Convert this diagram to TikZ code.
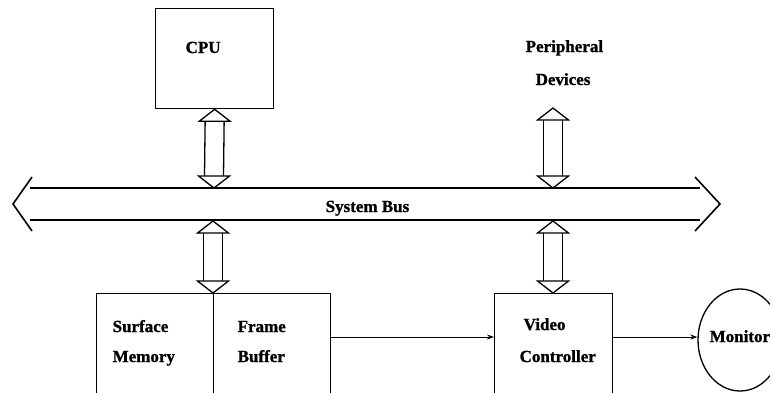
\documentclass[tikz,border=0pt]{standalone}
\usepackage{fontspec}
\setmainfont{Liberation Serif}[BoldFeatures={FakeBold=1.2}]
\usetikzlibrary{calc,arrows.meta,shapes.geometric}

% Hollow two-headed bus arrow from top tip #1 down to bottom tip #2
\newcommand\fatarrow[2]{%
  \draw[fat] (#1) -- ++(15.5,12) -- ++(-31,0) -- cycle;
  \draw[fat] (#2) -- ++(15.5,-12) -- ++(-31,0) -- cycle;
  \draw[fat] ($(#1)+(-9.5,12)$) -- ($(#2)+(-9.5,-12)$);
  \draw[fat] ($(#1)+(9.5,12)$) -- ($(#2)+(9.5,-12)$);}

\begin{document}
\begin{tikzpicture}[x=1pt,y=-1pt,line width=1.3pt,
  font=\bfseries\fontsize{17}{19}\selectfont,
  unit/.style={draw,rectangle,inner sep=0pt,anchor=north west},
  txt/.style={inner sep=0pt,anchor=base west},
  link/.style={-{Stealth[length=7pt,width=5pt]},line width=1pt},
  fat/.style={line width=1.3pt,line join=miter},
  busline/.style={line width=1.6pt},
]
\useasboundingbox (0,0) rectangle (770,392);
\clip (0,0) rectangle (770,392);

% functional units
\node[unit,minimum width=118pt,minimum height=100pt] (cpu) at (155,8) {};
\node[unit,minimum width=117pt,minimum height=110pt] (surf) at (96,293) {};
\node[unit,minimum width=117pt,minimum height=110pt] (frame) at (213,293) {};
\node[unit,minimum width=118pt,minimum height=110pt] (vc) at (494,293) {};
\node[draw,ellipse,inner sep=0pt,minimum width=84pt,minimum height=102pt] (mon) at (740,340) {};

% labels
\node[txt] (cpulbl) at (185,53) {CPU};
\node[txt] (per1) at (525,52) {Peripheral};
\node[txt] (per2) at (535,85) {Devices};
\node[txt] (buslbl) at (325,212) {System Bus};
\node[txt] (surf1) at (112,332) {Surface};
\node[txt] (surf2) at (112,362) {Memory};
\node[txt] (fb1) at (237,332) {Frame};
\node[txt] (fb2) at (237,362) {Buffer};
\node[txt] (vc1) at (523,330) {Video};
\node[txt] (vc2) at (519,362) {Controller};
\node[txt] (monlbl) at (709,342) {Monitor};

% system bus
\coordinate (busW) at (13,204);
\coordinate (busE) at (720,204);
\draw[busline] (30,188) -- (700,188);
\draw[busline] (30,220) -- (700,220);
\draw[busline] ($(busW)+(19,-27)$) -- (busW) -- ($(busW)+(19,27)$);
\draw[busline] ($(busE)+(-25,-27)$) -- (busE) -- ($(busE)+(-25,27)$);

% bus attachments
\coordinate (cpuBus) at (214,188);
\coordinate (memBus) at (213,221);
\coordinate (perTip) at (553,108);
\coordinate (perBus) at (553,188);
\coordinate (vcBus) at (553,221);
\fatarrow{cpu.south}{cpuBus}
\fatarrow{memBus}{frame.north west}
\fatarrow{perTip}{perBus}
\fatarrow{vcBus}{vc.north west -| vcBus}

% video signal path
\coordinate (sig) at (0,337);
\draw[link] (frame.east |- sig) -- (vc.west |- sig);
\draw[link] (vc.east |- sig) -- (mon.west |- sig);
\end{tikzpicture}
\end{document}
